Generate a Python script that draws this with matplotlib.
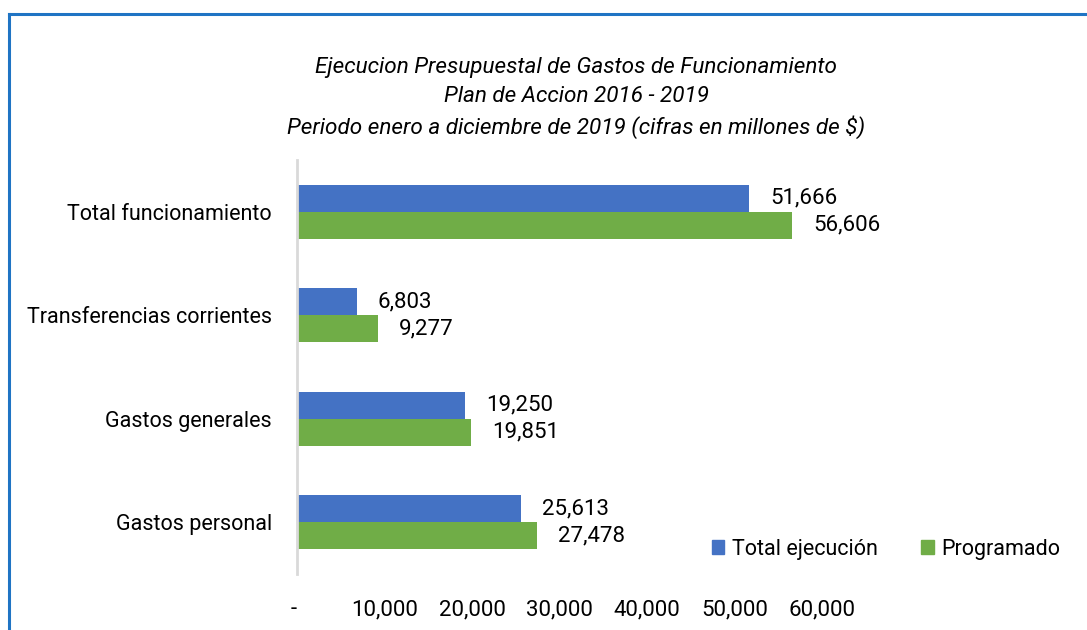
import matplotlib.pyplot as plt
from matplotlib.lines import Line2D
from matplotlib.patches import Patch

# Datos (millones de $)
categorias = ['Gastos personal', 'Gastos generales', 'Transferencias corrientes', 'Total funcionamiento']
ejecucion = [25613, 19250, 6803, 51666]
programado = [27478, 19851, 9277, 56606]
ticks_x = [0, 10000, 20000, 30000, 40000, 50000, 60000]
etiquetas_x = ['-', '10,000', '20,000', '30,000', '40,000', '50,000', '60,000']

azul = '#4472c4'
verde = '#70ad47'

plt.rcParams['font.family'] = ['Liberation Sans Narrow', 'Roboto', 'DejaVu Sans']

fig = plt.figure(figsize=(10.87, 6.30), dpi=100)
ax = fig.add_axes([297 / 1087, 56 / 630, 525 / 1087, 414 / 630])

y = range(len(categorias))
alto = 0.26
ax.barh([i + alto / 2 for i in y], ejecucion, height=alto, color=azul, label='Total ejecución')
ax.barh([i - alto / 2 for i in y], programado, height=alto, color=verde, label='Programado')

# Etiquetas de valor
for i in y:
    ax.text(ejecucion[i] + 2400, i + alto / 2, f'{ejecucion[i]:,}', va='center', ha='left',
            fontsize=16, clip_on=False)
    ax.text(programado[i] + 2400, i - alto / 2, f'{programado[i]:,}', va='center', ha='left',
            fontsize=16, clip_on=False)

ax.set_xlim(0, 60000)
ax.set_ylim(-0.5, len(categorias) - 0.5)
ax.set_yticks(list(y))
ax.set_yticklabels(categorias, fontsize=15.5)
ax.set_xticks(ticks_x)
ax.set_xticklabels(etiquetas_x, fontsize=16)
ax.get_xticklabels()[0].set_horizontalalignment('right')
ax.tick_params(axis='both', length=0)
ax.tick_params(axis='x', pad=18)
ax.tick_params(axis='y', pad=18)

for lado in ['top', 'right', 'bottom']:
    ax.spines[lado].set_visible(False)
ax.spines['left'].set_color('#d9d9d9')
ax.spines['left'].set_linewidth(2)

# Titulo
fig.text(576 / 1087, 1 - 98 / 630,
         'Ejecucion Presupuestal de Gastos de Funcionamiento\nPlan de Accion 2016 - 2019\n'
         'Periodo enero a diciembre de 2019 (cifras en millones de $)',
         ha='center', va='center', fontsize=16.2, style='italic', linespacing=1.5)

# Leyenda
handles = [Patch(color=azul, label='Total ejecución'), Patch(color=verde, label='Programado')]
fig.legend(handles=handles, loc='center', bbox_to_anchor=(886 / 1087, 1 - 549 / 630), ncol=2,
           frameon=False, fontsize=15.5, handlelength=0.6, handleheight=0.6,
           handletextpad=0.35, columnspacing=2.0)

# Marco
fig.add_artist(Line2D([9 / 1087, 1], [1 - 14 / 630, 1 - 14 / 630], color='#1f74c4', lw=2.2))
fig.add_artist(Line2D([9 / 1087, 9 / 1087], [0, 1 - 14 / 630], color='#1f74c4', lw=2.2))

fig.savefig('out.png', dpi=100)
